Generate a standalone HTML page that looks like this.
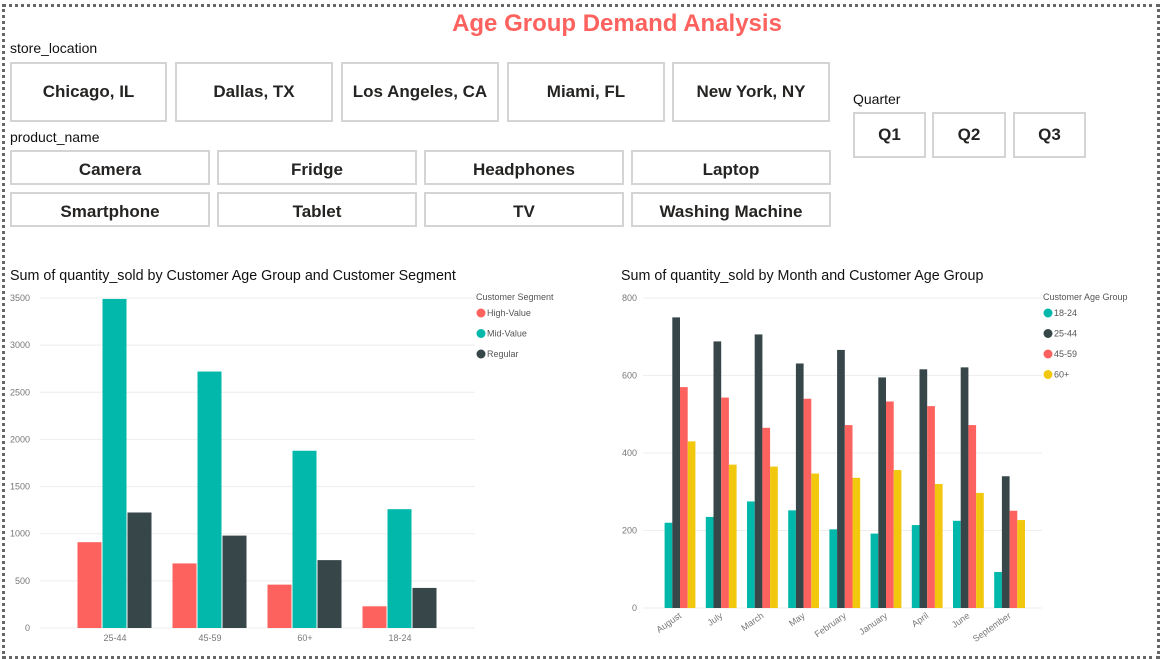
<!DOCTYPE html>
<html><head><meta charset="utf-8">
<style>
body{margin:0;width:1162px;height:657px;background:#fff;font-family:"Liberation Sans",sans-serif;position:relative;overflow:hidden}
.frame{position:absolute;left:2px;top:4px;width:1152px;height:649px;border:3px dotted #666}
.title{position:absolute;left:0;width:1234px;top:10px;text-align:center;font-size:24px;font-weight:bold;color:#fd625e}
.lbl{position:absolute;font-size:14px;color:#111}
.btn{position:absolute;box-sizing:border-box;border:2px solid #d4d4d4;background:#fff;display:flex;align-items:center;justify-content:center;font-weight:bold;color:#252423;font-size:17px}
.pb{padding-top:4px}
.ctitle{position:absolute;font-size:14.3px;color:#111}
svg text{font-family:"Liberation Sans",sans-serif}
</style></head><body>
<div class="frame"></div>
<div class="title">Age Group Demand Analysis</div>
<div class="lbl" style="left:10px;top:40px">store_location</div>
<div class="btn" style="left:10px;top:62px;width:157px;height:60px">Chicago, IL</div>
<div class="btn" style="left:175px;top:62px;width:158px;height:60px">Dallas, TX</div>
<div class="btn" style="left:341px;top:62px;width:158px;height:60px">Los Angeles, CA</div>
<div class="btn" style="left:507px;top:62px;width:158px;height:60px">Miami, FL</div>
<div class="btn" style="left:672px;top:62px;width:158px;height:60px">New York, NY</div>
<div class="lbl" style="left:10px;top:129px">product_name</div>
<div class="btn pb" style="left:10px;top:150px;width:200px;height:35px">Camera</div>
<div class="btn pb" style="left:217px;top:150px;width:200px;height:35px">Fridge</div>
<div class="btn pb" style="left:424px;top:150px;width:200px;height:35px">Headphones</div>
<div class="btn pb" style="left:631px;top:150px;width:200px;height:35px">Laptop</div>
<div class="btn pb" style="left:10px;top:192px;width:200px;height:35px">Smartphone</div>
<div class="btn pb" style="left:217px;top:192px;width:200px;height:35px">Tablet</div>
<div class="btn pb" style="left:424px;top:192px;width:200px;height:35px">TV</div>
<div class="btn pb" style="left:631px;top:192px;width:200px;height:35px">Washing Machine</div>
<div class="lbl" style="left:853px;top:91px">Quarter</div>
<div class="btn" style="left:853px;top:112px;width:73px;height:46px">Q1</div>
<div class="btn" style="left:932px;top:112px;width:74px;height:46px">Q2</div>
<div class="btn" style="left:1013px;top:112px;width:73px;height:46px">Q3</div>
<div class="ctitle" style="left:10px;top:268px">Sum of quantity_sold by Customer Age Group and Customer Segment</div>
<div class="ctitle" style="left:621px;top:268px">Sum of quantity_sold by Month and Customer Age Group</div>
<svg id="c" width="1162" height="657" style="position:absolute;left:0;top:0"></svg>
<script>
const ageCats=["25-44","45-59","60+","18-24"];
const highValue=[910,685,460,230];
const midValue=[3490,2720,1880,1260];
const regular=[1225,980,720,425];
const leftTicks=[0,500,1000,1500,2000,2500,3000,3500];
const segNames=["High-Value","Mid-Value","Regular"];

const months=["August","July","March","May","February","January","April","June","September"];
const g1824=[220,235,275,252,203,192,214,225,93];
const g2544=[750,688,706,631,666,595,616,621,340];
const g4559=[570,543,465,540,472,533,521,472,251];
const g60=[430,370,365,347,336,356,320,297,227];
const rightTicks=[0,200,400,600,800];
const ageNames=["18-24","25-44","45-59","60+"];

const svg=document.getElementById('c');
const NS="http://www.w3.org/2000/svg";
function el(t,a,txt){const e=document.createElementNS(NS,t);for(const k in a)e.setAttribute(k,a[k]);if(txt!=null)e.textContent=txt;svg.appendChild(e);return e;}

// left chart
const ly=v=>628-v*(330/3500);
leftTicks.forEach(t=>{
 const g=el('line',{x1:40,x2:475,y1:ly(t),y2:ly(t),stroke:'#eee','stroke-width':1});
 
 
 const tx=el('text',{x:30,y:ly(t)+3,'text-anchor':'end','font-size':9,fill:'#777'},t);
 
 
});
const lcol=['#fd625e','#01b8aa','#374649'];
const lser=[highValue,midValue,regular];
ageCats.forEach((c,i)=>{
 const cx=115+i*95;
 lser.forEach((s,j)=>{
  const x=cx-37.5+j*25;
  const r=el('rect',{x:x,y:ly(s[i]),width:24,height:628-ly(s[i]),fill:lcol[j]});
  
  
 });
 const t=el('text',{x:cx,y:641,'text-anchor':'middle','font-size':9,fill:'#777'},c);
 
 
});
let lt=el('text',{x:476,y:300,'font-size':9,fill:'#555'},'Customer Segment');


segNames.forEach((n,j)=>{
 const cy=313+j*20.5;
 const d=el('circle',{cx:481,cy:cy,r:4.5,fill:lcol[j]});
 
 
 const t=el('text',{x:487,y:cy+3,'font-size':9,fill:'#555'},n);
 
 
});

// right chart
const ry=v=>608-v*(310/800);
rightTicks.forEach(t=>{
 const g=el('line',{x1:643,x2:1042,y1:ry(t),y2:ry(t),stroke:'#eee','stroke-width':1});
 
 
 const tx=el('text',{x:637,y:ry(t)+3,'text-anchor':'end','font-size':9,fill:'#777'},t);
 
 
});
const rcol=['#01b8aa','#374649','#fd625e','#f2c80f'];
const rser=[g1824,g2544,g4559,g60];
months.forEach((m,i)=>{
 const cx=680+i*41.2;
 rser.forEach((s,j)=>{
  const x=cx-15.4+j*7.7;
  const r=el('rect',{x:x,y:ry(s[i]),width:7.7,height:608-ry(s[i]),fill:rcol[j]});
  
  
 });
 const t=el('text',{x:cx+2,y:617,'text-anchor':'end','font-size':9,fill:'#777',transform:'rotate(-35 '+(cx+2)+' 617)'},m);
 
 
});
let rt=el('text',{x:1043,y:300,'font-size':9,fill:'#555'},'Customer Age Group');


ageNames.forEach((n,j)=>{
 const cy=313+j*20.5;
 const d=el('circle',{cx:1048,cy:cy,r:4.5,fill:rcol[j]});
 
 
 const t=el('text',{x:1054,y:cy+3,'font-size':9,fill:'#555'},n);
 
 
});
</script>
</body></html>
